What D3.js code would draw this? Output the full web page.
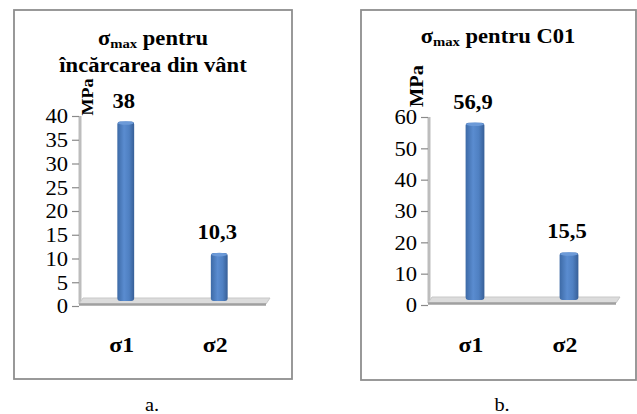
<!DOCTYPE html>
<html>
<head>
<meta charset="utf-8">
<script src="https://cdn.jsdelivr.net/npm/d3@7"></script>
</head>
<body style="margin:0;background:#fff">
<svg id="chart" width="637" height="414"></svg>
<script>
// Categories shared by both panels
const categories = ["σ1", "σ2"];

// Panel a: maximum stress under wind load (MPa)
const valuesA = [38, 10.3];
const ticksA = [0, 5, 10, 15, 20, 25, 30, 35, 40];

// Panel b: maximum stress for combination C01 (MPa)
const valuesB = [56.9, 15.5];
const ticksB = [0, 10, 20, 30, 40, 50, 60];

const titleA = ["pentru", "încărcarea din vânt"];
const titleB = ["pentru C01"];
const captions = ["a.", "b."];

const SERIF = "Liberation Serif";
const SX = 1.13; // horizontal stretch applied to all lettering

// Romanian number format: comma as decimal separator
const roFmt = d3.formatLocale({ decimal: ",", thousands: ".", grouping: [3], currency: ["", " lei"] });
const fmtVal = v => Number.isInteger(v) ? String(v) : roFmt.format(".1f")(v);

const svg = d3.select("#chart");

// Cylinder-like shading for bars
const defs = svg.append("defs");
const grad = defs.append("linearGradient").attr("id", "barGrad")
  .attr("x1", "0%").attr("x2", "100%").attr("y1", "0%").attr("y2", "0%");
grad.append("stop").attr("offset", "0%").attr("stop-color", "#3d6aa6");
grad.append("stop").attr("offset", "40%").attr("stop-color", "#5a8cd0");
grad.append("stop").attr("offset", "70%").attr("stop-color", "#4f80c2");
grad.append("stop").attr("offset", "100%").attr("stop-color", "#375f97");

// text placed at (x, y) and stretched horizontally
function label(parent, x, y, str, size, bold, anchor, rotate) {
  const rot = rotate ? ` rotate(${rotate})` : "";
  return parent.append("text")
    .attr("transform", `translate(${x},${y})${rot} scale(${SX},1)`)
    .attr("text-anchor", anchor || "middle")
    .attr("font-size", size)
    .attr("font-weight", bold ? "bold" : "normal")
    .style("font-family", SERIF)
    .attr("fill", "#000")
    .text(str);
}

function drawPanel(cfg) {
  const g = svg.append("g");

  // outer frame
  g.append("rect")
    .attr("x", cfg.frame[0]).attr("y", cfg.frame[1])
    .attr("width", cfg.frame[2] - cfg.frame[0]).attr("height", cfg.frame[3] - cfg.frame[1])
    .attr("fill", "#fff").attr("stroke", "#8e8e8e").attr("stroke-width", 1.8);

  // title with subscript "max"
  cfg.title.forEach((line, i) => {
    if (i === 0) {
      const t = label(g, cfg.titleX, cfg.titleY[i], null, 20, true);
      t.append("tspan").text("σ");
      t.append("tspan").attr("font-size", 13).attr("dy", 3).text("max");
      t.append("tspan").attr("dy", -3).text(" " + line);
    } else {
      label(g, cfg.titleX, cfg.titleY[i], line, 20, true);
    }
  });

  const y = d3.scaleLinear().domain(cfg.domain).range([cfg.y0, cfg.yTop]);
  const x = d3.scaleBand().domain(categories).range([cfg.axisX, cfg.floorEnd])
    .paddingInner(cfg.pad).paddingOuter(cfg.pad / 2);
  const depth = 4;

  // back wall edge (3D left wall)
  g.append("line")
    .attr("x1", cfg.axisX + 1).attr("x2", cfg.axisX + 1)
    .attr("y1", cfg.yTop).attr("y2", cfg.y0 - 2)
    .attr("stroke", "#bdbdbd").attr("stroke-width", 3);

  // y axis ticks and labels
  const axis = d3.axisLeft(y).tickValues(cfg.ticks).tickSize(7).tickPadding(4);
  const ax = g.append("g").attr("transform", `translate(${cfg.axisX},0)`).call(axis);
  ax.select(".domain").remove();
  ax.selectAll(".tick line").attr("stroke", "#8a8a8a").attr("stroke-width", 1.2);
  ax.selectAll(".tick text")
    .attr("x", 0).attr("dy", "0.34em")
    .attr("transform", `translate(-11,0) scale(${SX},1)`)
    .attr("font-size", 20)
    .style("font-family", SERIF)
    .attr("fill", "#000");

  // floor plate
  const fx0 = cfg.axisX, fx1 = cfg.floorEnd;
  g.append("path")
    .attr("d", `M${fx0},${cfg.y0 - 2} L${fx0 + 4},${cfg.y0 - 8} L${fx1 + 4},${cfg.y0 - 8} L${fx1},${cfg.y0 - 2} Z`)
    .attr("fill", "#dcdcdc").attr("stroke", "#c8c8c8").attr("stroke-width", 1);
  g.append("line")
    .attr("x1", fx0).attr("x2", fx1).attr("y1", cfg.y0 - 1.5).attr("y2", cfg.y0 - 1.5)
    .attr("stroke", "#a0a0a0").attr("stroke-width", 2.5);

  // bars
  const bw = x.bandwidth();
  const bars = g.selectAll(".bar").data(cfg.values).enter().append("g");
  bars.append("rect")
    .attr("x", (d, i) => x(categories[i]))
    .attr("y", d => y(d) - depth)
    .attr("width", bw)
    .attr("height", d => y(0) - y(d) - 1)
    .attr("rx", 3)
    .attr("fill", "url(#barGrad)");
  bars.append("ellipse")
    .attr("cx", (d, i) => x(categories[i]) + bw / 2)
    .attr("cy", d => y(d) - depth + 1.5)
    .attr("rx", bw / 2 - 0.5).attr("ry", 1.8)
    .attr("fill", "#6c9ad8");

  // value labels
  cfg.values.forEach((d, i) => {
    label(g, x(categories[i]) + bw / 2 - 2, y(d) - depth - 14, fmtVal(d), 20, true);
  });

  // category labels
  categories.forEach(c => {
    label(g, x(c) + bw / 2 - 4, 352, c, 21, true);
  });

  // unit label
  label(g, cfg.unitX, cfg.unitY, "MPa", cfg.unitSize, true, "middle", -90);

  // caption below panel
  label(g, cfg.captionX, 411, cfg.caption, 18, false);
}

drawPanel({
  frame: [14, 10, 292, 379],
  title: titleA, titleX: 153, titleY: [45, 72],
  values: valuesA, ticks: ticksA, domain: [0, 40],
  y0: 306, yTop: 116, axisX: 79, floorEnd: 266, pad: 0.82,
  unitX: 93, unitY: 97, unitSize: 16,
  caption: captions[0], captionX: 152
});

drawPanel({
  frame: [361, 10, 636, 380],
  title: titleB, titleX: 498, titleY: [43],
  values: valuesB, ticks: ticksB, domain: [0, 60],
  y0: 305, yTop: 117, axisX: 428, floorEnd: 616, pad: 0.8,
  unitX: 423, unitY: 86, unitSize: 18,
  caption: captions[1], captionX: 502
});
</script>
</body>
</html>
